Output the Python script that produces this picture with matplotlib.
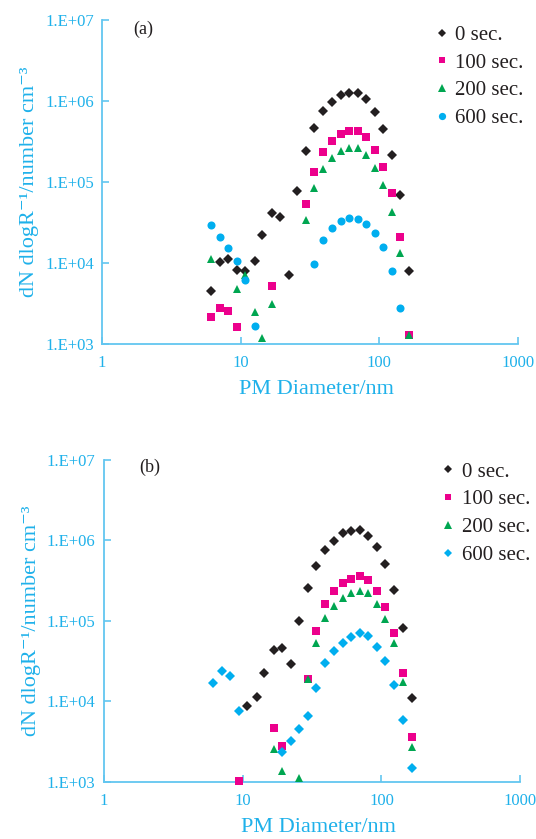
import numpy as np
import matplotlib
matplotlib.use("Agg")
import matplotlib.pyplot as plt
from matplotlib.ticker import FixedLocator, FixedFormatter, NullLocator

nan = np.nan

# Particle diameter bins (nm)
diameters = [6.07, 7.09, 8.14, 9.45, 10.8, 12.6, 14.3, 16.7, 19.1, 22.2, 25.4, 29.6,
             33.8, 39.4, 45.4, 52.7, 60.2, 69.9, 80.2, 93.1, 106.3, 123.5, 141.8, 164.6]

series_labels = ["0 sec.", "100 sec.", "200 sec.", "600 sec."]

# Panel (a)
a_0 = [4550, 10300, 11300, 8200, 8030, 10600, 22000, 41800, 36700, 7170, 78100, 243000,
       468000, 753000, 980000, 1175000, 1245000, 1245000, 1060000, 731000, 451000, 214000, 68500, 7900]
a_100 = [2170, 2810, 2580, 1635, nan, nan, nan, 5250, nan, nan, nan, 54000,
         133000, 237000, 324000, 395000, 430000, 430000, 362000, 250000, 154000, 73800, 21100, 1300]
a_200 = [11300, nan, nan, 4730, 7110, 2500, 1175, 3120, nan, nan, nan, 34000,
         83600, 143000, 198000, 243000, 261000, 261000, 217000, 148000, 91000, 43000, 13400, 1300]
a_600 = [29200, 21100, 15200, 10600, 6110, 1670, nan, nan, nan, nan, nan, nan,
         9720, 19200, 27300, 33300, 35900, 34600, 30300, 23300, 15800, 7960, 2780, nan]

# Panel (b)
b_0 = [nan, nan, nan, nan, 8670, 11300, 22500, 43400, 45200, 28600, 99500, 255000,
       475000, 751000, 980000, 1210000, 1283000, 1330000, 1122000, 811000, 499000, 239000, 80000, 11000]
b_100 = [nan, nan, nan, 1020, nan, nan, nan, 4660, 2760, nan, nan, 18900,
         74700, 160000, 234000, 295000, 330000, 360000, 321000, 234000, 147000, 70500, 22500, 3600]
b_200 = [nan, nan, nan, nan, nan, nan, nan, 2510, 1350, nan, 1115, 18600,
         53000, 106000, 151000, 192000, 220000, 232000, 221000, 159000, 103500, 52100, 17400, 2680]
b_600 = [16900, 23400, 20500, 7450, nan, nan, nan, nan, 2350, 3160, 4490, 6450,
         14600, 29400, 41800, 53000, 62400, 69400, 64200, 46900, 31400, 15700, 5860, 1470]

y_ticks = [1e3, 1e4, 1e5, 1e6, 1e7]
y_tick_labels = ["1.E+03", "1.E+04", "1.E+05", "1.E+06", "1.E+07"]
x_ticks = [1, 10, 100, 1000]
x_tick_labels = ["1", "10", "100", "1000"]

plt.rcParams["font.family"] = ["Liberation Serif", "DejaVu Serif"]
plt.rcParams["mathtext.fontset"] = "stix"

CYAN_TXT = "#1fb1ea"
CYAN_AX = "#62c6f0"
BLACK = "#231f20"
colors = [BLACK, "#ec008c", "#00a651", "#00aeef"]

fig = plt.figure(figsize=(5.36, 8.39), dpi=100)
ax_a = fig.add_axes([0.1905, 0.5900, 0.7757, 0.3862])
ax_b = fig.add_axes([0.1938, 0.0685, 0.7769, 0.3838])


def style_axes(ax, panel, panel_pos, leg_anchor):
    ax.set_xscale("log")
    ax.set_yscale("log")
    ax.set_xlim(1, 1000)
    ax.set_ylim(1e3, 1e7)
    for s in ["top", "right"]:
        ax.spines[s].set_visible(False)
    for s in ["left", "bottom"]:
        ax.spines[s].set_color(CYAN_AX)
        ax.spines[s].set_linewidth(1.3)
    ax.xaxis.set_major_locator(FixedLocator(x_ticks))
    ax.xaxis.set_major_formatter(FixedFormatter(x_tick_labels))
    ax.yaxis.set_major_locator(FixedLocator(y_ticks))
    ax.yaxis.set_major_formatter(FixedFormatter(y_tick_labels))
    ax.xaxis.set_minor_locator(NullLocator())
    ax.yaxis.set_minor_locator(NullLocator())
    ax.tick_params(axis="both", direction="in", length=5, width=1.2, color=CYAN_AX,
                   labelcolor=CYAN_TXT, labelsize=12)
    ax.tick_params(axis="y", pad=6)
    ax.tick_params(axis="x", pad=8)
    ax.set_xlabel("PM Diameter/nm", color=CYAN_TXT, fontsize=16)
    ax.xaxis.set_label_coords(0.515, -0.112)
    ax.set_ylabel("dN dlogR⁻¹/number cm⁻³", color=CYAN_TXT, fontsize=16, labelpad=4)
    ax.text(panel_pos[0], panel_pos[1], panel, transform=ax.transAxes, fontsize=13,
            color=BLACK, ha="center", va="center")
    leg = ax.legend(loc="upper left", bbox_to_anchor=leg_anchor, frameon=False,
                    fontsize=15, handlelength=0.8, handletextpad=0.25, labelspacing=0.39,
                    borderpad=0, borderaxespad=0, markerscale=0.9)
    for t in leg.get_texts():
        t.set_color(BLACK)


def draw(ax, data, cyan_marker):
    markers = [("D", 4.6), ("s", 5.4), ("^", 6.2), cyan_marker]
    for vals, lab, (mk, ms), col in zip(data, series_labels, markers, colors):
        ax.plot(diameters, vals, linestyle="none", marker=mk, markersize=ms,
                color=col, markeredgewidth=0, label=lab, clip_on=False, zorder=3)


draw(ax_a, [a_0, a_100, a_200, a_600], ("o", 5.8))
style_axes(ax_a, "(a)", (0.1, 0.972), (0.797, 0.983))

draw(ax_b, [b_0, b_100, b_200, b_600], ("D", 4.6))
style_axes(ax_b, "(b)", (0.11, 0.977), (0.807, 0.992))

fig.savefig("out.png", dpi=100)
